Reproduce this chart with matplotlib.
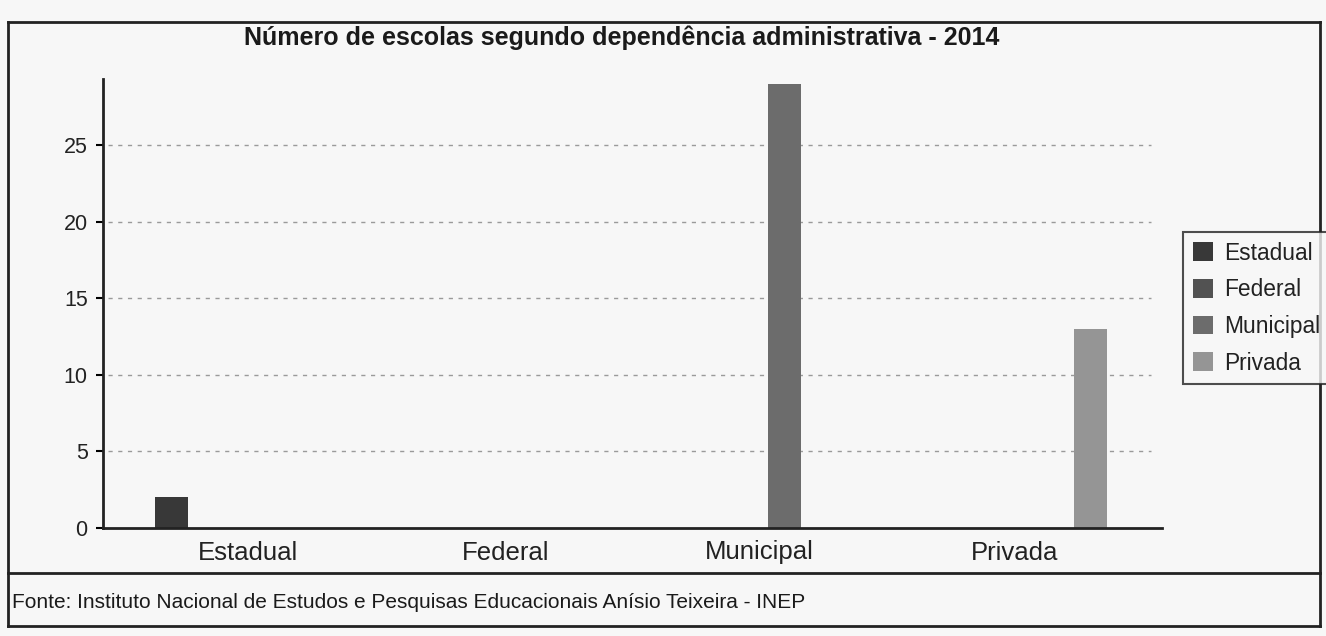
import matplotlib
matplotlib.use('Agg')
import matplotlib.pyplot as plt
from matplotlib.lines import Line2D
import numpy as np

plt.rcParams['font.family'] = ['Liberation Sans', 'DejaVu Sans']

categories = ['Estadual', 'Federal', 'Municipal', 'Privada']
series = ['Estadual', 'Federal', 'Municipal', 'Privada']
values = [2, 0, 29, 13]
colors = ['#383838', '#525252', '#6c6c6c', '#959595']
label_pos = [0.10, 1.04, 1.97, 2.90]

W, H = 1326, 636
fig = plt.figure(figsize=(W / 100, H / 100), dpi=100, facecolor='#f7f7f7')

def fx(px):
    return px / W

def fy(py):
    return 1 - py / H

ax = fig.add_axes([fx(103), fy(528), fx(1162) - fx(103), fy(79) - fy(528)])
ax.set_facecolor('none')

x = np.arange(len(categories))
bw = 0.12
for i, name in enumerate(series):
    vals = [values[i] if j == i else 0 for j in range(len(categories))]
    ax.bar(x + (i - 1.5) * bw, vals, width=bw, color=colors[i], label=name)

ax.set_xlim(-0.43, 3.44)
ax.set_ylim(0, 29.3)
ax.set_yticks([0, 5, 10, 15, 20, 25])
for yv in [5, 10, 15, 20, 25]:
    ax.axhline(yv, xmin=0.005, xmax=0.99, color='#9a9a9a', lw=1, ls=(0, (3, 4)), zorder=0)

ax.set_xticks(label_pos)
ax.set_xticklabels(categories)
ax.tick_params(axis='x', length=0, pad=9, labelsize=18.5, labelcolor='#222222')
ax.tick_params(axis='y', length=5, width=1.5, pad=6, labelsize=15.5, labelcolor='#222222')
for s in ['top', 'right']:
    ax.spines[s].set_visible(False)
for s in ['left', 'bottom']:
    ax.spines[s].set_linewidth(2)
    ax.spines[s].set_color('#222222')

leg = fig.legend(loc='upper left', bbox_to_anchor=(fx(1183), fy(232)), frameon=True,
                 fontsize=16.4, handlelength=0.88, handleheight=0.88, handletextpad=0.5,
                 labelspacing=0.6, borderpad=0.42, borderaxespad=0, fancybox=False)
leg.get_frame().set_edgecolor('#222222')
leg.get_frame().set_linewidth(1.5)
leg.get_frame().set_facecolor('#f7f7f7')
for t in leg.get_texts():
    t.set_color('#222222')

fig.text(fx(622), fy(38), 'Número de escolas segundo dependência administrativa - 2014',
         ha='center', va='center', fontsize=18, fontweight='bold', color='#1a1a1a')
fig.text(fx(12), fy(603), 'Fonte: Instituto Nacional de Estudos e Pesquisas Educacionais Anísio Teixeira - INEP',
         ha='left', va='center', fontsize=15, color='#1a1a1a')

# moldura
for (x0, y0, x1, y1) in [(8, 22, 1320, 22), (8, 573, 1320, 573), (8, 626, 1320, 626),
                          (8, 22, 8, 626), (1320, 22, 1320, 626)]:
    fig.add_artist(Line2D([fx(x0), fx(x1)], [fy(y0), fy(y1)], color='#222222', lw=2))

fig.savefig('out.png', dpi=100, facecolor=fig.get_facecolor())
